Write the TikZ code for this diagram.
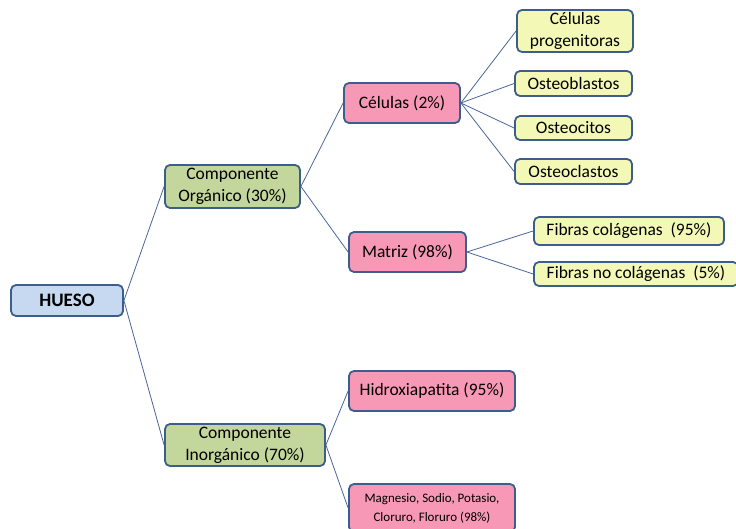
\documentclass[tikz,border=0pt]{standalone}
\usepackage{fontspec}
\setmainfont{Carlito}
\begin{document}
\begin{tikzpicture}[x=1pt,y=-1pt,
  box/.style={draw=boxline, line width=1.8pt, rounded corners=5pt, align=center, inner sep=0pt, font=\fontsize{17.5}{22}\selectfont},
  bluebox/.style={box, fill=bluefill},
  greenbox/.style={box, fill=greenfill},
  pinkbox/.style={box, fill=pinkfill},
  yellowbox/.style={box, fill=yellowfill},
  link/.style={draw=linecol, line width=0.8pt}]
\definecolor{boxline}{HTML}{3B5E8C}
\definecolor{bluefill}{HTML}{C6D9F1}
\definecolor{greenfill}{HTML}{C3D69B}
\definecolor{pinkfill}{HTML}{F799B6}
\definecolor{yellowfill}{HTML}{F4F8B6}
\definecolor{linecol}{HTML}{4A6599}
\useasboundingbox (0,0) rectangle (736,529);
\node[bluebox, minimum width=112pt, minimum height=31pt, font=\fontsize{19}{21}\selectfont\bfseries] (hueso) at (67,300.5) {HUESO};
\node[greenbox, minimum width=135pt, minimum height=43pt] (org) at (232.5,186.5) {Componente\\Orgánico (30\%)};
\node[greenbox, minimum width=160pt, minimum height=42pt] (inorg) at (245,445) {Componente\\Inorgánico (70\%)};
\node[pinkbox, minimum width=116pt, minimum height=40pt] (cel) at (402,103) {Células (2\%)};
\node[pinkbox, minimum width=117pt, minimum height=40pt] (mat) at (407.5,252) {Matriz (98\%)};
\node[pinkbox, minimum width=166pt, minimum height=40pt] (hid) at (432,391) {Hidroxiapatita (95\%)};
\node[pinkbox, minimum width=166pt, minimum height=48pt, font=\fontsize{13}{19}\selectfont] (mg) at (432,508) {Magnesio, Sodio, Potasio,\\Cloruro, Floruro (98\%)};
\node[yellowbox, minimum width=116pt, minimum height=42pt] (prog) at (575,31) {Células\\progenitoras};
\node[yellowbox, minimum width=117pt, minimum height=25pt] (blast) at (573.5,83.5) {Osteoblastos};
\node[yellowbox, minimum width=117pt, minimum height=24pt] (cit) at (573.5,128) {Osteocitos};
\node[yellowbox, minimum width=117pt, minimum height=25pt] (clast) at (573.5,171.5) {Osteoclastos};
\node[yellowbox, minimum width=190pt, minimum height=28pt] (fc) at (629,231) {Fibras colágenas ~(95\%)};
\node[yellowbox, minimum width=204pt, minimum height=24pt] (fnc) at (636,274) {Fibras no colágenas ~(5\%)};
\draw[link] (hueso.east) -- (org.west);
\draw[link] (hueso.east) -- (inorg.west);
\draw[link] (org.east) -- (cel.west);
\draw[link] (org.east) -- (mat.west);
\draw[link] (inorg.east) -- (hid.west);
\draw[link] (inorg.east) -- (mg.west);
\draw[link] (cel.east) -- (prog.west);
\draw[link] (cel.east) -- (blast.west);
\draw[link] (cel.east) -- (cit.west);
\draw[link] (cel.east) -- (clast.west);
\draw[link] (mat.east) -- (fc.west);
\draw[link] (mat.east) -- (fnc.west);
\end{tikzpicture}
\end{document}
